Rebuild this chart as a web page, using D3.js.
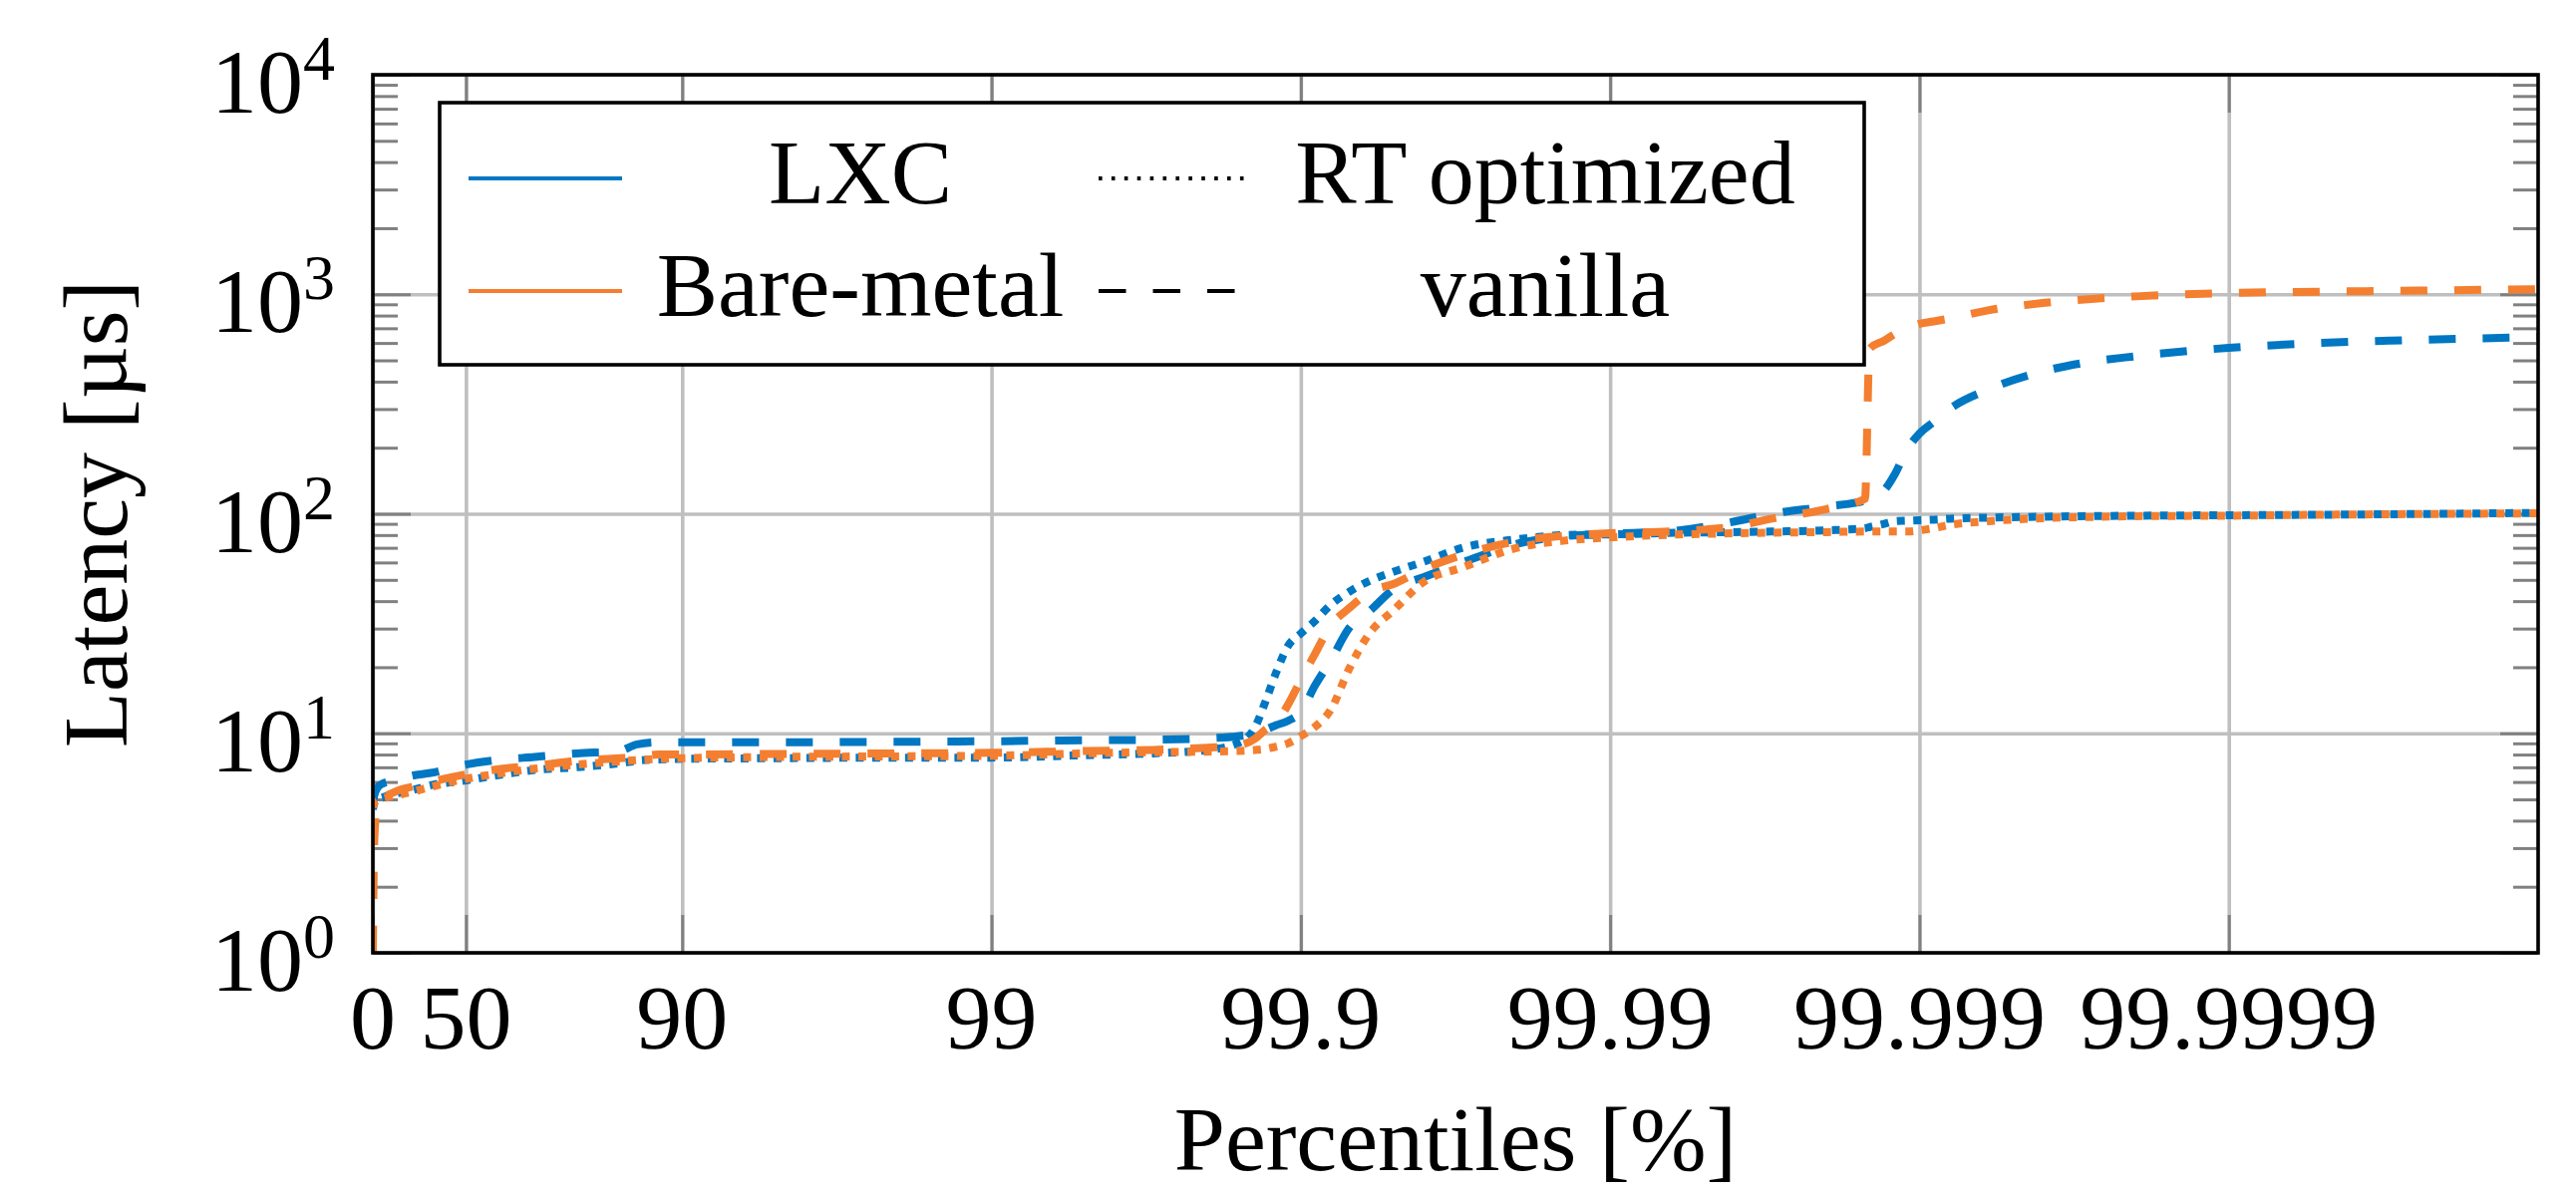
<!DOCTYPE html>
<html>
<head>
<meta charset="utf-8">
<script src="https://cdn.jsdelivr.net/npm/d3@7"></script>
<style>
  body { margin: 0; background: #fff; }
  svg text { font-family: "Liberation Serif", "DejaVu Serif", serif; fill: #000; }
</style>
</head>
<body>
<svg id="chart" width="2584" height="1198"></svg>
<script>
// percentiles shared by all four series
var percentiles = [
  0, 1, 3, 7, 15, 25, 35, 50, 62, 70,
  78, 84, 86, 88, 90, 95, 98, 99, 99.5, 99.7,
  99.8, 99.84, 99.86, 99.87, 99.88, 99.89, 99.9, 99.91, 99.92, 99.93,
  99.94, 99.95, 99.96, 99.97, 99.98, 99.986, 99.99, 99.994, 99.996, 99.997,
  99.998, 99.9985, 99.99855, 99.9987, 99.9988, 99.9989, 99.999, 99.9991, 99.9992, 99.9994,
  99.9996, 99.9997, 99.9998, 99.9999, 99.99995, 99.99997, 99.99999
];

// latency in us
var lxcVanilla = [
  4.8, 5.2, 5.6, 5.9, 6.1, 6.4, 6.6, 7.2, 7.6, 7.8,
  8.1, 8.3, 8.9, 9.1, 9.1, 9.1, 9.15, 9.2, 9.3, 9.35,
  9.5, 9.7, 10.0, 10.4, 10.9, 11.4, 12.5, 16.5, 21.5, 30,
  36, 45.5, 51.5, 60, 73, 79, 81, 84, 92, 100,
  108, 115, 117, 128, 152, 195, 232, 262, 300, 368,
  445, 485, 522, 570, 600, 615, 638
];
var lxcRt = [
  4.5, 4.8, 5.0, 5.1, 5.3, 5.5, 5.8, 6.1, 6.5, 6.8,
  7.0, 7.3, 7.5, 7.6, 7.65, 7.7, 7.75, 7.75, 7.95, 8.1,
  8.4, 9.0, 10.8, 14, 19, 25, 28.5, 32.5, 38.5, 44,
  49.5, 54.5, 60.5, 70, 76.5, 80, 80.5, 82, 82.5, 83,
  84, 86, 87, 90, 92.5, 93, 93.5, 94, 95, 96,
  97, 97.5, 98, 98.5, 99, 99.5, 101
];
var bmVanilla = [
  1.0, 3.2, 4.6, 5.0, 5.4, 5.7, 6.0, 6.5, 6.9, 7.1,
  7.5, 7.7, 7.8, 8.0, 8.0, 8.05, 8.1, 8.15, 8.3, 8.4,
  8.6, 8.8, 9.5, 10.4, 11.2, 13.5, 17.5, 23, 31, 37,
  44, 48, 56, 65, 75, 79.5, 81.5, 83.5, 87.5, 95,
  105, 117, 565, 615, 660, 695, 733, 752, 775, 845,
  912, 945, 978, 1013, 1028, 1036, 1055
];
var bmRt = [
  4.6, 4.8, 4.95, 5.05, 5.2, 5.4, 5.7, 6.2, 6.6, 6.9,
  7.2, 7.45, 7.55, 7.65, 7.7, 7.8, 7.85, 7.9, 8.1, 8.2,
  8.25, 8.3, 8.4, 8.5, 8.7, 9.0, 9.7, 10.7, 12.8, 19.5,
  28.5, 36.5, 49, 57, 70, 75.5, 78, 80.5, 81.5, 82,
  82.5, 83, 83, 83, 83, 83, 84, 86, 89, 92.5,
  95.5, 96.5, 97.5, 98, 99, 99.5, 100.5
];

var xTickValues = [0, 50, 90, 99, 99.9, 99.99, 99.999, 99.9999];
var xTickLabels = ["0", "50", "90", "99", "99.9", "99.99", "99.999", "99.9999"];
var yTickExponents = [0, 1, 2, 3, 4];
var platformNames = ["LXC", "Bare-metal"];
var kernelNames = ["RT optimized", "vanilla"];

var blue = "#0077c2", orange = "#f47f30";
var dashed = "27 27", dotted = "8 8.5";

var plotLeft = 374, plotRight = 2546, plotTop = 75, plotBottom = 956;
var fontSize = 92;

var svg = d3.select("#chart");

// x axis is the number of nines: -log10(1 - p)
function nines(p) { return -Math.log10(1 - p / 100); }

var x = d3.scaleLinear().domain([0, 7]).range([plotLeft, plotRight]);
var y = d3.scaleLog().domain([1, 1e4]).range([plotBottom, plotTop]);

var xTicks = xTickValues.map(nines);
var yTicks = yTickExponents.map(function(e) { return Math.pow(10, e); });
var yMinor = y.ticks().filter(function(v) { return yTicks.indexOf(v) == -1; });

function cleanAxis(g, color, width) {
    g.select(".domain").remove();
    g.selectAll(".tick text").remove();
    g.selectAll(".tick line").attr("stroke", color).attr("stroke-width", width);
}

// grid
svg.append("g")
    .attr("transform", "translate(0," + plotBottom + ")")
    .call(d3.axisBottom(x).tickValues(xTicks).tickSize(-(plotBottom - plotTop)).tickFormat(""))
    .call(cleanAxis, "#bfbfbf", 3.6);
svg.append("g")
    .attr("transform", "translate(" + plotLeft + ",0)")
    .call(d3.axisLeft(y).tickValues(yTicks).tickSize(-(plotRight - plotLeft)).tickFormat(""))
    .call(cleanAxis, "#bfbfbf", 3.6);

// ticks, pointing inside on all four sides
var tickColor = "#808080";
svg.append("g").attr("transform", "translate(0," + plotBottom + ")")
    .call(d3.axisBottom(x).tickValues(xTicks).tickSize(-38).tickFormat(""))
    .call(cleanAxis, tickColor, 3);
svg.append("g").attr("transform", "translate(0," + plotTop + ")")
    .call(d3.axisTop(x).tickValues(xTicks).tickSize(-38).tickFormat(""))
    .call(cleanAxis, tickColor, 3);
svg.append("g").attr("transform", "translate(" + plotLeft + ",0)")
    .call(d3.axisLeft(y).tickValues(yTicks).tickSize(-38).tickFormat(""))
    .call(cleanAxis, tickColor, 3);
svg.append("g").attr("transform", "translate(" + plotRight + ",0)")
    .call(d3.axisRight(y).tickValues(yTicks).tickSize(-38).tickFormat(""))
    .call(cleanAxis, tickColor, 3);
svg.append("g").attr("transform", "translate(" + plotLeft + ",0)")
    .call(d3.axisLeft(y).tickValues(yMinor).tickSize(-25).tickFormat(""))
    .call(cleanAxis, tickColor, 3);
svg.append("g").attr("transform", "translate(" + plotRight + ",0)")
    .call(d3.axisRight(y).tickValues(yMinor).tickSize(-25).tickFormat(""))
    .call(cleanAxis, tickColor, 3);

// curves
svg.append("clipPath").attr("id", "plotClip")
    .append("rect")
    .attr("x", plotLeft).attr("y", plotTop)
    .attr("width", plotRight - plotLeft).attr("height", plotBottom - plotTop);

var series = [
    {values: lxcVanilla, color: blue, dash: dashed},
    {values: lxcRt, color: blue, dash: dotted},
    {values: bmVanilla, color: orange, dash: dashed},
    {values: bmRt, color: orange, dash: dotted}
];

var line = d3.line()
    .x(function(d) { return x(nines(d[0])); })
    .y(function(d) { return y(d[1]); })
    .curve(d3.curveMonotoneX);

svg.append("g")
    .attr("clip-path", "url(#plotClip)")
    .selectAll("path")
    .data(series)
    .enter().append("path")
    .attr("d", function(s) { return line(d3.zip(percentiles, s.values)); })
    .attr("fill", "none")
    .attr("stroke", function(s) { return s.color; })
    .attr("stroke-width", 8)
    .attr("stroke-dasharray", function(s) { return s.dash; })
    .attr("stroke-linecap", "butt")
    .attr("stroke-linejoin", "round");

// axis box
svg.append("rect")
    .attr("x", plotLeft).attr("y", plotTop)
    .attr("width", plotRight - plotLeft).attr("height", plotBottom - plotTop)
    .attr("fill", "none").attr("stroke", "#000").attr("stroke-width", 3.6);

// tick labels
svg.append("g").selectAll("text")
    .data(xTickValues)
    .enter().append("text")
    .attr("x", function(d) { return x(nines(d)); })
    .attr("y", 1052)
    .attr("text-anchor", "middle")
    .style("font-size", fontSize + "px")
    .text(function(d, i) { return xTickLabels[i]; });

var yLabels = svg.append("g").selectAll("text")
    .data(yTickExponents)
    .enter().append("text")
    .attr("x", 336)
    .attr("y", function(e) { return y(Math.pow(10, e)) + 38; })
    .attr("text-anchor", "end")
    .style("font-size", fontSize + "px");
yLabels.append("tspan").text("10");
yLabels.append("tspan")
    .attr("dy", -33)
    .style("font-size", "64px")
    .text(function(e) { return e; });

// axis titles
svg.append("text")
    .attr("x", (plotLeft + plotRight) / 2)
    .attr("y", 1174)
    .attr("text-anchor", "middle")
    .style("font-size", fontSize + "px")
    .text("Percentiles [%]");

svg.append("text")
    .attr("transform", "translate(127," + (plotTop + plotBottom) / 2 + ") rotate(-90)")
    .attr("text-anchor", "middle")
    .style("font-size", fontSize + "px")
    .text("Latency [µs]");

// legend
var legend = svg.append("g");
legend.append("rect")
    .attr("x", 441).attr("y", 103)
    .attr("width", 1429).attr("height", 263)
    .attr("fill", "#fff").attr("stroke", "#000").attr("stroke-width", 3.6);

var legendRows = [179, 292];
var legendEntries = [
    {x1: 470, x2: 624, cx: 863, row: 0, color: blue, dash: null, label: platformNames[0]},
    {x1: 1102, x2: 1256, cx: 1550, row: 0, color: "#000", dash: "3.6 9.3", label: kernelNames[0]},
    {x1: 470, x2: 624, cx: 863, row: 1, color: orange, dash: null, label: platformNames[1]},
    {x1: 1102, x2: 1256, cx: 1550, row: 1, color: "#000", dash: "27.5 27", label: kernelNames[1]}
];

var entry = legend.selectAll(".entry")
    .data(legendEntries)
    .enter().append("g")
    .attr("class", "entry");
entry.append("line")
    .attr("x1", function(d) { return d.x1; })
    .attr("x2", function(d) { return d.x2; })
    .attr("y1", function(d) { return legendRows[d.row]; })
    .attr("y2", function(d) { return legendRows[d.row]; })
    .attr("stroke", function(d) { return d.color; })
    .attr("stroke-width", 4)
    .attr("stroke-dasharray", function(d) { return d.dash; });
entry.append("text")
    .attr("x", function(d) { return d.cx; })
    .attr("y", function(d) { return legendRows[d.row] + 25; })
    .attr("text-anchor", "middle")
    .style("font-size", fontSize + "px")
    .text(function(d) { return d.label; });
</script>
</body>
</html>
